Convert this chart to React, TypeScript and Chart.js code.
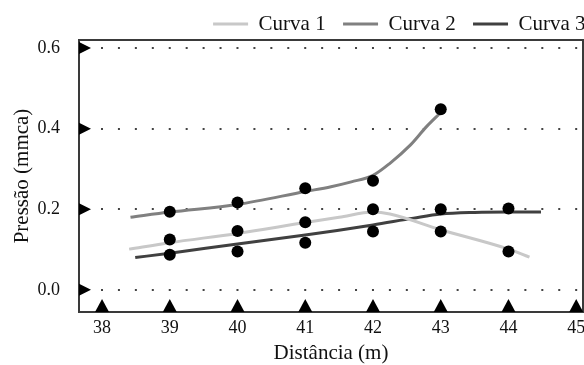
import React, { useEffect, useRef } from "react";
import { Chart, registerables } from "chart.js";

Chart.register(...registerables);

// ---- data ----
const seriesLabels = ["Curva 1", "Curva 2", "Curva 3"];
const seriesColors = ["#c8c8c8", "#808080", "#404040"];

// measured points (black dots)
const curva1PointX = [39, 40, 41, 42, 43, 44];
const curva1PointY = [0.125, 0.146, 0.168, 0.2, 0.145, 0.095];
const curva2PointX = [39, 40, 41, 42, 43];
const curva2PointY = [0.194, 0.217, 0.252, 0.271, 0.448];
const curva3PointX = [39, 40, 41, 42, 43, 44];
const curva3PointY = [0.087, 0.095, 0.117, 0.145, 0.2, 0.202];

// fitted curves
const curva1X = [38.4, 39, 40, 41, 41.5, 42, 42.25, 43, 44, 44.31];
const curva1Y = [0.101, 0.117, 0.14, 0.167, 0.18, 0.193, 0.188, 0.149, 0.101, 0.081];
const curva2X = [38.42, 39, 40, 41, 41.38, 41.68, 42, 42.25, 42.55, 42.79, 43.0];
const curva2Y = [0.18, 0.193, 0.212, 0.244, 0.256, 0.268, 0.284, 0.314, 0.359, 0.405, 0.44];
const curva3X = [38.49, 39, 40, 41, 42, 42.6, 43, 43.5, 44, 44.48];
const curva3Y = [0.08, 0.091, 0.114, 0.136, 0.161, 0.178, 0.188, 0.192, 0.193, 0.193];

const xTicks = [38, 39, 40, 41, 42, 43, 44, 45];
const yTicks = [0, 0.2, 0.4, 0.6];
const xTitle = "Distância (m)";
const yTitle = "Pressão (mmca)";

const FONT = "'Liberation Serif', 'Times New Roman', serif";

const zip = (xs: number[], ys: number[]) => xs.map((x, i) => ({ x, y: ys[i] }));

const framePlugin = {
  id: "frameAndTriangles",
  afterDraw(chart: any) {
    const { ctx, chartArea, scales } = chart;
    const { left, top, right, bottom } = chartArea;
    ctx.save();
    ctx.strokeStyle = "#3a3a3a";
    ctx.lineWidth = 2;
    ctx.strokeRect(left, top, right - left, bottom - top);
    ctx.fillStyle = "#000";
    for (const t of scales.y.ticks) {
      const py = scales.y.getPixelForValue(t.value);
      ctx.beginPath();
      ctx.moveTo(left, py - 6);
      ctx.lineTo(left + 12, py);
      ctx.lineTo(left, py + 6);
      ctx.closePath();
      ctx.fill();
    }
    for (const t of scales.x.ticks) {
      const px = scales.x.getPixelForValue(t.value);
      ctx.beginPath();
      ctx.moveTo(px - 7, bottom);
      ctx.lineTo(px, bottom - 13);
      ctx.lineTo(px + 7, bottom);
      ctx.closePath();
      ctx.fill();
    }
    ctx.restore();
  },
};

export default function App() {
  const ref = useRef<HTMLCanvasElement | null>(null);

  useEffect(() => {
    if (!ref.current) return;
    const pointDs = (xs: number[], ys: number[]) => ({
      label: "",
      data: zip(xs, ys),
      showLine: false,
      pointRadius: 6,
      pointHoverRadius: 6,
      pointBorderWidth: 0,
      pointBackgroundColor: "#000",
      backgroundColor: "#000",
      borderColor: "#000",
    });
    const lineDs = (i: number, xs: number[], ys: number[]) => ({
      label: seriesLabels[i],
      data: zip(xs, ys),
      borderColor: seriesColors[i],
      backgroundColor: seriesColors[i],
      borderWidth: 3,
      pointRadius: 0,
      cubicInterpolationMode: "monotone" as const,
      fill: false,
    });
    const chart = new Chart(ref.current, {
      type: "line",
      data: {
        datasets: [
          pointDs(curva1PointX, curva1PointY),
          pointDs(curva2PointX, curva2PointY),
          pointDs(curva3PointX, curva3PointY),
          lineDs(0, curva1X, curva1Y),
          lineDs(1, curva2X, curva2Y),
          lineDs(2, curva3X, curva3Y),
        ] as any,
      },
      options: {
        animation: false,
        responsive: false,
        devicePixelRatio: 1,
        layout: { padding: { top: -3.9, left: 0, right: 0, bottom: 0 } },
        plugins: {
          tooltip: { enabled: false },
          legend: {
            position: "top",
            align: "end",
            maxHeight: 43.9,
            labels: {
              filter: (item: any) => !!item.text,
              boxWidth: 35,
              boxHeight: 0,
              padding: 17.4,
              color: "#111",
              font: { family: FONT, size: 21 },
            },
          } as any,
        },
        scales: {
          x: {
            type: "linear",
            min: 37.66,
            max: 45.1,
            afterBuildTicks: (s: any) => {
              s.ticks = xTicks.map((v) => ({ value: v }));
            },
            afterFit: (s: any) => {
              s.height = 53;
            },
            grid: { display: false, drawTicks: false },
            border: { display: false },
            ticks: {
              padding: 5,
              color: "#111",
              font: { family: FONT, size: 18 },
              callback: (v: any) => String(v),
            },
            title: {
              display: true,
              text: xTitle,
              color: "#111",
              font: { family: FONT, size: 21, lineHeight: 1 },
              padding: { top: 0, bottom: 1 },
            },
          },
          y: {
            type: "linear",
            min: -0.055,
            max: 0.62,
            afterBuildTicks: (s: any) => {
              s.ticks = yTicks.map((v) => ({ value: v }));
            },
            afterFit: (s: any) => {
              s.width = 79;
            },
            grid: { display: true, drawTicks: false, color: "#444", lineWidth: 2 },
            border: { display: false, dash: [2, 14.935], dashOffset: 11.87 },
            ticks: {
              padding: 19,
              color: "#111",
              font: { family: FONT, size: 18 },
              callback: (v: any) => Number(v).toFixed(1),
            },
            title: {
              display: true,
              text: yTitle,
              color: "#111",
              font: { family: FONT, size: 21, lineHeight: 1 },
              padding: { top: 11.5, bottom: 0 },
            },
          },
          y2: {
            type: "linear",
            position: "right",
            display: true,
            afterFit: (s: any) => {
              s.width = 20;
            },
            grid: { display: false, drawTicks: false },
            border: { display: false },
            ticks: { display: false },
          },
        } as any,
      },
      plugins: [framePlugin],
    });
    return () => chart.destroy();
  }, []);

  return (
    <div
      style={{
        position: "fixed",
        left: 0,
        top: 0,
        width: 584,
        height: 365,
        overflow: "hidden",
        background: "#fff",
      }}
    >
      <canvas ref={ref} width={603} height={365} style={{ display: "block", width: 603, height: 365 }} />
    </div>
  );
}
